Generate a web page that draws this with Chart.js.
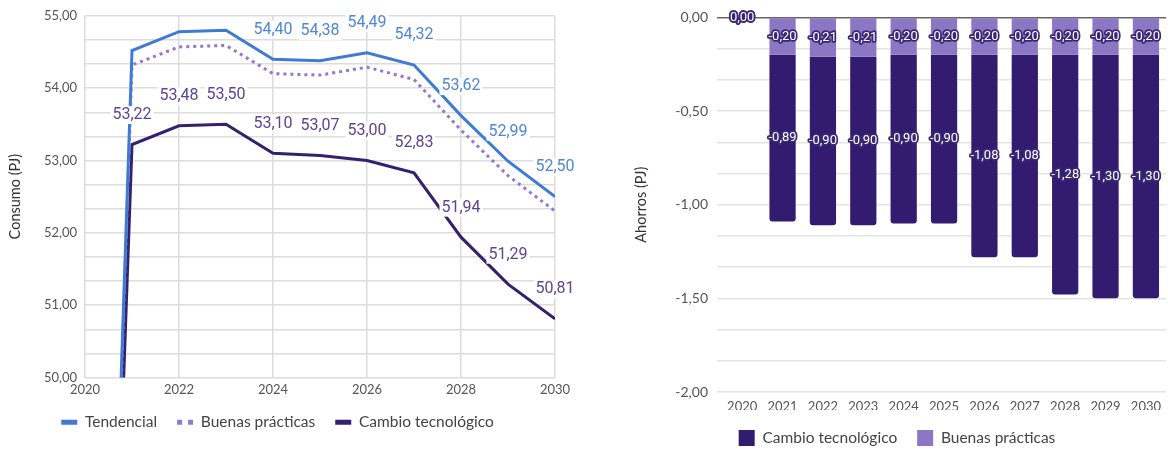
<!DOCTYPE html>
<html>
<head>
<meta charset="utf-8">
<script src="https://cdn.jsdelivr.net/npm/chart.js@4.4.0/dist/chart.umd.min.js"></script>
<style>
  body { margin: 0; background: #fff; }
  .box { position: absolute; top: 0; height: 450px; }
  #left { left: 0; width: 580px; }
  #right { left: 588px; width: 580px; }
</style>
</head>
<body>
<div class="box" id="left"><canvas id="consumo"></canvas></div>
<div class="box" id="right"><canvas id="ahorros"></canvas></div>
<script>
// consumo (PJ) por escenario
const years = [2020, 2021, 2022, 2023, 2024, 2025, 2026, 2027, 2028, 2029, 2030];
const tendencial = [35, 54.52, 54.78, 54.80, 54.40, 54.38, 54.49, 54.32, 53.62, 52.99, 52.50];
const buenasPracticas = [35, 54.32, 54.57, 54.59, 54.20, 54.18, 54.29, 54.12, 53.42, 52.79, 52.30];
const cambioTecnologico = [35, 53.22, 53.48, 53.50, 53.10, 53.07, 53.00, 52.83, 51.94, 51.29, 50.81];

// ahorros (PJ)
const yearLabels = ['2020', '2021', '2022', '2023', '2024', '2025', '2026', '2027', '2028', '2029', '2030'];
const ahorroBuenas = [0, -0.20, -0.21, -0.21, -0.20, -0.20, -0.20, -0.20, -0.20, -0.20, -0.20];
const ahorroCambio = [0, -0.89, -0.90, -0.90, -0.90, -0.90, -1.08, -1.08, -1.28, -1.30, -1.30];

const fmt = v => (Math.abs(v) < 1e-9 ? 0 : v).toFixed(2).replace('.', ',');
const isStep = (v, s) => Math.abs(v / s - Math.round(v / s)) < 1e-6;

const axisFont = { family: 'Lato', size: 13 };
const legendFont = { family: 'Lato', size: 15.5 };
const titleFont = { family: 'Lato', size: 14.5 };

const lineLabels = {
    id: 'lineLabels',
    afterDatasetsDraw(chart) {
        const ctx = chart.ctx;
        ctx.save();
        ctx.font = '16px Roboto';
        ctx.textAlign = 'center';
        ctx.textBaseline = 'middle';
        chart.data.datasets.forEach((ds, i) => {
            if (ds.labelFrom === undefined) return;
            const meta = chart.getDatasetMeta(i);
            meta.data.forEach((pt, j) => {
                if (j < ds.labelFrom) return;
                const txt = fmt(ds.data[j].y);
                const w = ctx.measureText(txt).width;
                const y = pt.y - 29.5;
                ctx.fillStyle = '#fff';
                ctx.fillRect(pt.x - w / 2 - 2, y - 9, w + 4, 18);
                ctx.fillStyle = ds.labelColor;
                ctx.fillText(txt, pt.x, y);
            });
        });
        ctx.restore();
    }
};

const barLabels = {
    id: 'barLabels',
    afterDatasetsDraw(chart) {
        const ctx = chart.ctx;
        ctx.save();
        ctx.font = '13px Roboto';
        ctx.textAlign = 'center';
        ctx.textBaseline = 'middle';
        ctx.lineJoin = 'round';
        ctx.lineWidth = 3.5;
        chart.data.datasets.forEach((ds, i) => {
            const meta = chart.getDatasetMeta(i);
            meta.data.forEach((bar, j) => {
                const txt = fmt(ds.data[j]);
                const y = (bar.y + bar.base) / 2;
                ctx.strokeStyle = '#3a2877';
                ctx.strokeText(txt, bar.x, y);
                ctx.fillStyle = '#fff';
                ctx.fillText(txt, bar.x, y);
            });
        });
        ctx.restore();
    }
};

const toPoints = arr => years.map((x, i) => ({ x: x, y: arr[i] }));

new Chart(document.getElementById('consumo'), {
    type: 'line',
    data: {
        datasets: [{
            label: 'Tendencial',
            data: toPoints(tendencial),
            borderColor: '#3f7bd4',
            backgroundColor: '#3f7bd4',
            borderWidth: 3,
            pointRadius: 0,
            labelFrom: 4,
            labelColor: '#4f86d9'
        }, {
            label: 'Buenas prácticas',
            data: toPoints(buenasPracticas),
            borderColor: '#9079cc',
            backgroundColor: '#9079cc',
            borderWidth: 3,
            borderDash: [3, 4],
            pointRadius: 0
        }, {
            label: 'Cambio tecnológico',
            data: toPoints(cambioTecnologico),
            borderColor: '#33206e',
            backgroundColor: '#33206e',
            borderWidth: 3,
            pointRadius: 0,
            labelFrom: 1,
            labelColor: '#5a4696'
        }]
    },
    options: {
        animation: false,
        maintainAspectRatio: false,
        layout: { padding: { top: 12, right: 25, bottom: 10, left: 0 } },
        plugins: {
            tooltip: { enabled: false },
            legend: {
                position: 'bottom',
                labels: {
                    usePointStyle: true,
                    pointStyle: 'line',
                    pointStyleWidth: 16,
                    padding: 20,
                    color: '#444',
                    font: legendFont,
                    generateLabels: chart => Chart.defaults.plugins.legend.labels.generateLabels(chart).map(item => {
                        const dash = chart.data.datasets[item.datasetIndex].borderDash;
                        return Object.assign(item, { lineWidth: 5, lineDash: dash ? [5, 6] : [] });
                    })
                }
            }
        },
        scales: {
            x: {
                type: 'linear',
                min: 2020,
                max: 2030,
                ticks: { stepSize: 2, padding: 5, color: '#555', font: axisFont, callback: v => String(v) },
                grid: { color: '#dcdcdc', lineWidth: 1.5, drawTicks: false },
                border: { display: false },
                afterFit: s => { s.height = 17; }
            },
            y: {
                min: 50,
                max: 55,
                ticks: {
                    stepSize: 1 / 3,
                    autoSkip: false,
                    padding: 8,
                    color: '#555',
                    font: axisFont,
                    callback: v => isStep(v, 1) ? fmt(Math.round(v)) : ''
                },
                grid: { color: '#dcdcdc', lineWidth: 1.5, drawTicks: false },
                border: { display: false },
                title: { display: true, text: 'Consumo (PJ)', color: '#333', font: titleFont, padding: { top: 6.3, bottom: 0 } },
                afterFit: s => { s.width = 85; }
            }
        }
    },
    plugins: [lineLabels]
});

new Chart(document.getElementById('ahorros'), {
    type: 'bar',
    data: {
        labels: yearLabels,
        datasets: [{
            label: 'Buenas prácticas',
            data: ahorroBuenas,
            backgroundColor: '#8c77c4',
            borderWidth: 0
        }, {
            label: 'Cambio tecnológico',
            data: ahorroCambio,
            backgroundColor: '#331c70',
            borderWidth: 0,
            borderRadius: 3
        }]
    },
    options: {
        animation: false,
        maintainAspectRatio: false,
        layout: { padding: { top: 15, right: 0, bottom: -6, left: 38 } },
        datasets: { bar: { categoryPercentage: 1, barPercentage: 0.65 } },
        plugins: {
            tooltip: { enabled: false },
            legend: {
                position: 'bottom',
                reverse: true,
                labels: { boxWidth: 16, boxHeight: 16, padding: 20, color: '#444', font: legendFont }
            }
        },
        scales: {
            x: {
                stacked: true,
                grid: { display: false, drawTicks: false },
                border: { display: false },
                ticks: { padding: 7, color: '#555', font: axisFont },
                afterFit: s => { s.height = 18; }
            },
            y: {
                stacked: true,
                min: -2,
                max: 0,
                ticks: {
                    stepSize: 1 / 6,
                    autoSkip: false,
                    padding: 9,
                    color: '#555',
                    font: { family: 'Lato', size: 14 },
                    callback: v => isStep(v, 0.5) ? fmt(Math.round(v * 2) / 2) : ''
                },
                grid: {
                    color: c => c.tick && Math.abs(c.tick.value) < 1e-9 ? '#666' : '#e4e4e4',
                    lineWidth: 1.5,
                    tickLength: 5
                },
                border: { display: false },
                title: { display: true, text: 'Ahorros (PJ)', color: '#333', font: titleFont, padding: { top: 6.3, bottom: 0 } },
                afterFit: s => { s.width = 96; }
            }
        }
    },
    plugins: [barLabels]
});
</script>
</body>
</html>
